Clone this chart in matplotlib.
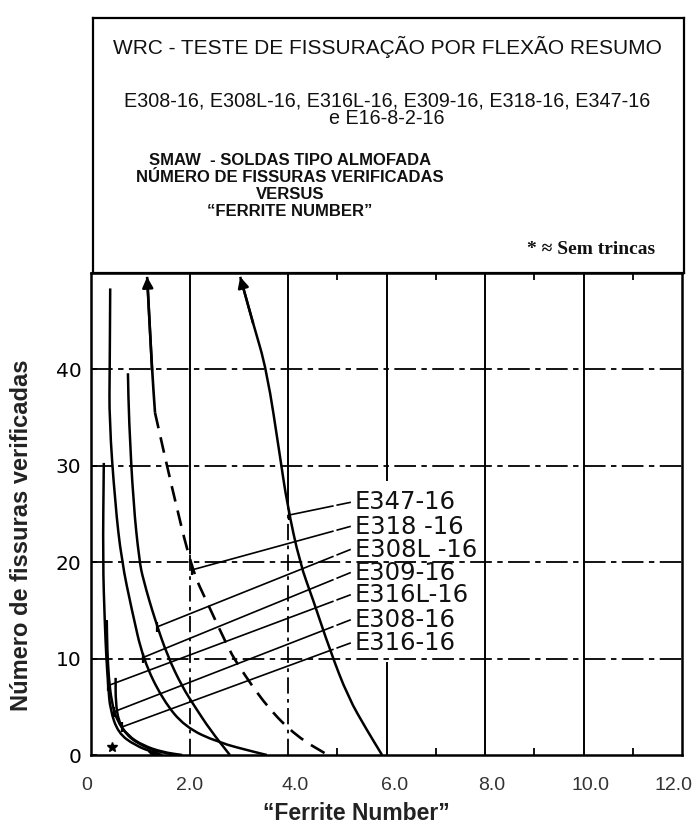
import numpy as np
import matplotlib.pyplot as plt
from matplotlib.path import Path
from matplotlib.patches import PathPatch
from matplotlib.transforms import ScaledTranslation

# curvas: Ferrite Number (x) vs número de fissuras (y)
fn_e347 = [3.03, 3.29, 3.57, 3.84, 3.98, 4.24, 4.51, 4.85, 5.22, 5.60, 5.91]
nf_e347 = [49.6, 44.8, 39.9, 30.9, 26.1, 19.9, 16.1, 10.9, 6.0, 2.6, 0.0]

fn_e318 = [1.14, 1.24, 1.30, 1.64, 2.05, 2.36, 2.76, 2.96, 3.57, 4.18, 4.81]
nf_e318 = [49.6, 39.9, 35.5, 27.8, 19.2, 15.8, 11.4, 9.5, 5.0, 1.9, 0.0]

fn_e308l = [0.75, 0.77, 0.86, 0.98, 1.06, 1.30, 1.56, 1.85, 2.11, 2.42, 2.82]
nf_e308l = [39.6, 34.8, 26.1, 20.2, 18.2, 14.0, 10.2, 7.1, 5.0, 2.6, 0.0]

fn_e309 = [0.39, 0.38, 0.37, 0.49, 0.62, 0.83, 1.06, 1.46, 1.91, 2.58, 3.33, 3.57]
nf_e309 = [48.4, 40.0, 34.8, 26.1, 20.2, 15.0, 9.9, 5.7, 2.9, 1.3, 0.3, 0.0]

fn_e316l = [0.26, 0.24, 0.28, 0.31, 0.35, 0.39, 0.55, 0.89, 1.30, 1.45]
nf_e316l = [30.3, 20.2, 13.7, 10.2, 7.1, 4.7, 2.3, 1.0, 0.2, 0.0]

fn_e308 = [0.32, 0.33, 0.36, 0.42, 0.52, 0.75, 1.05, 1.45, 1.85]
nf_e308 = [14.0, 11.0, 8.0, 5.5, 3.6, 2.0, 1.0, 0.3, 0.0]

fn_e316 = [0.50, 0.50, 0.56, 0.70, 0.95, 1.30, 1.75]
nf_e316 = [8.0, 5.5, 3.5, 2.2, 1.2, 0.4, 0.0]

rotulos = ['E347-16', 'E318 -16', 'E308L -16', 'E309-16', 'E316L-16', 'E308-16', 'E316-16']
rotulo_y = [26.2, 23.7, 21.3, 18.9, 16.6, 14.0, 11.6]
ponta_y = [24.9, 19.2, 13.3, 10.1, 7.2, 4.5, 2.9]

# pontos sem trincas
sem_fn = [0.43, 1.26]
sem_nf = [0.8, 0.2]

curvas = [(fn_e347, nf_e347), (fn_e318, nf_e318), (fn_e308l, nf_e308l),
          (fn_e309, nf_e309), (fn_e316l, nf_e316l), (fn_e308, nf_e308),
          (fn_e316, nf_e316)]

sans = ['Liberation Sans', 'DejaVu Sans']


def suave(ax, x, y, **kw):
    # curva quadrática pelos pontos médios, com os pontos lidos como controle
    p = np.column_stack([x, y])
    verts = [p[0], (p[0] + p[1]) / 2]
    codes = [Path.MOVETO, Path.LINETO]
    for i in range(1, len(p) - 1):
        verts += [p[i], (p[i] + p[i + 1]) / 2]
        codes += [Path.CURVE3, Path.CURVE3]
    verts.append(p[-1])
    codes.append(Path.LINETO)
    ax.add_patch(PathPatch(Path(verts, codes), fill=False, color='k', **kw))


fig = plt.figure(figsize=(6.99, 8.30), dpi=100)
ax = fig.add_axes([91/699, 75/830, 591/699, 482/830])
ax.set_xlim(0, 12)
ax.set_ylim(0, 50)

# grade
for y in [10, 20, 30, 40]:
    ax.axhline(y, color='k', lw=1.3, dashes=(12, 3, 3, 3))
ax.plot([2, 2], [21, 50], color='k', lw=1.4)
ax.plot([2, 2], [0, 21], color='k', lw=1.3, dashes=(9, 3, 2, 3))
ax.plot([4, 4], [26, 50], color='k', lw=1.4)
ax.plot([4, 4], [0, 26], color='k', lw=1.3, dashes=(9, 3, 2, 3))
ax.plot([6, 6], [28.5, 50], color='k', lw=1.4)
ax.plot([6, 6], [0, 9.5], color='k', lw=1.4)
for x in [8, 10]:
    ax.axvline(x, color='k', lw=1.4)

# curvas
for i, (fx, fy) in enumerate(curvas):
    fx = np.array(fx)
    fy = np.array(fy)
    if i == 1:
        suave(ax, fx[fy >= 35.5], fy[fy >= 35.5], lw=1.9)
        suave(ax, fx[fy <= 35.5], fy[fy <= 35.5], lw=1.9, linestyle=(0, (6, 3.5)))
    else:
        suave(ax, fx, fy, lw=1.8)

for fx, fy in curvas[:2]:
    ax.annotate('', xy=(fx[0], fy[0]), xytext=(fx[1], fy[1]),
                arrowprops=dict(arrowstyle='-|>', color='k', lw=1.8,
                                mutation_scale=16, shrinkA=0, shrinkB=0))

# linhas de chamada
x0 = 5.26
for (fx, fy), txt, ly, py in zip(curvas, rotulos, rotulo_y, ponta_y):
    px = np.interp(py, fy[::-1], fx[::-1])
    a = (ly - py) / (x0 - px)
    xa = 4.91
    ax.plot([px, xa], [py, py + a * (xa - px)], color='k', lw=1.2)
    ax.plot([5.0, x0], [py + a * (5.0 - px), ly], color='k', lw=1.2)
    ax.plot(px, py, marker='|', ms=7, mew=1.6, color='k')
    ax.text(5.36, ly, txt, fontsize=17.5, va='center', ha='left',
            family='DejaVu Sans', color='#111111')

ax.plot(sem_fn, sem_nf, ls='none', marker='*', ms=7, color='k')

ax.set_xticks([0, 2, 4, 6, 8, 10, 12])
ax.set_xticklabels(['0', '2.0', '4.0', '6.0', '8.0', '10.0', '12.0'], family=sans)
ax.set_xticks([5, 7, 9, 11], minor=True)
ax.tick_params(axis='x', which='major', length=0, pad=16, labelsize=14,
               labelcolor='#333333')
ax.tick_params(axis='x', which='minor', direction='in', length=5, width=1.3,
               top=True, bottom=True)
for lab, dx in zip(ax.get_xticklabels(), [-4, 0, 7, 8, 7, 7, -9]):
    lab.set_transform(lab.get_transform() + ScaledTranslation(dx / 100, 0, fig.dpi_scale_trans))
ax.set_yticks([0, 10, 20, 30, 40])
ax.tick_params(axis='y', direction='in', length=4, width=1.3, pad=7, labelsize=14.5)
for s in ax.spines.values():
    s.set_linewidth(1.8)

fig.text(22/699, 1 - 535/830, 'Número de fissuras verificadas', rotation=90,
         ha='center', va='center', fontsize=17, fontweight='bold',
         family=sans, color='#222222')
fig.text(356/699, 1 - 813/830, '“Ferrite Number”', ha='center', va='center',
         fontsize=16.5, fontweight='bold', family=sans, color='#222222')

# quadro do título
box = fig.add_axes([93/699, 557/830, 591/699, 255/830])
box.set_xticks([])
box.set_yticks([])
for s in box.spines.values():
    s.set_linewidth(1.6)

fig.text(387/699, 1 - 47/830, 'WRC - TESTE DE FISSURAÇÃO POR FLEXÃO RESUMO',
         ha='center', va='center', fontsize=15, family=sans, color='#111111')
fig.text(387/699, 1 - 101/830, 'E308-16, E308L-16, E316L-16, E309-16, E318-16, E347-16',
         ha='center', va='center', fontsize=14.2, family=sans, color='#111111')
fig.text(387/699, 1 - 119/830, 'e E16-8-2-16',
         ha='center', va='center', fontsize=14.2, family=sans, color='#111111')
bloco = 'SMAW  - SOLDAS TIPO ALMOFADA\nNÚMERO DE FISSURAS VERIFICADAS\nVERSUS\n“FERRITE NUMBER”'
fig.text(290/699, 1 - 186/830, bloco, ha='center', va='center', fontsize=12,
         fontweight='bold', family=sans, color='#111111', linespacing=1.15)
fig.text(655/699, 1 - 250/830, '* ≈ Sem trincas', ha='right', va='center',
         fontsize=14, fontweight='bold', family=['Liberation Serif', 'DejaVu Serif'],
         color='#111111')

fig.savefig('out.png', dpi=100)
